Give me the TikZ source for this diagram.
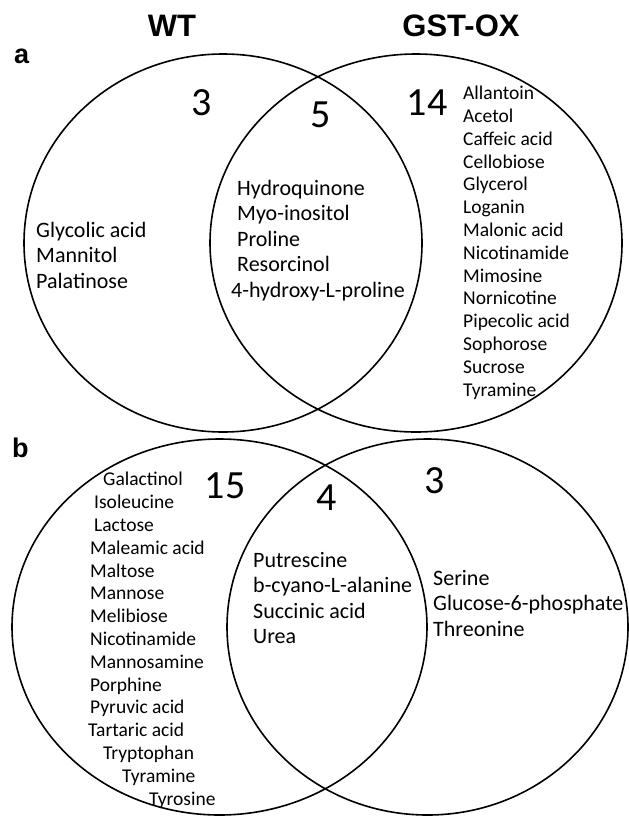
\documentclass[tikz,border=0pt]{standalone}
\usepackage{fontspec}
\setmainfont{Carlito}
\newfontfamily\headfont{Liberation Sans}

\tikzset{
	venn/.style={line width=1.6pt},
	head/.style={anchor=base, inner sep=0pt, font=\headfont\bfseries\fontsize{31}{31}\selectfont},
	panel/.style={anchor=base west, inner sep=0pt, font=\headfont\bfseries\fontsize{27}{27}\selectfont},
	count/.style={anchor=base, inner sep=0pt, font=\fontsize{40}{40}\selectfont},
	biglist/.style={anchor=base west, inner sep=0pt, align=left, font=\fontsize{22}{25.5}\selectfont},
	smalllist/.style={anchor=base west, inner sep=0pt, align=left, font=\fontsize{19.5}{22.8}\selectfont}
}

\begin{document}
\begin{tikzpicture}[x=1pt, y=-1pt]
		\useasboundingbox (0,0) rectangle (629,817);

		% column titles
		\node[head] (wt) at (172,36) {WT};
		\node[head] (gst) at (461,36) {GST-OX};

		% panel a (lists placed at the baseline of their last line)
		\node[panel] (pa) at (14,63) {a};
		\draw[venn] (223,243) ellipse [x radius=199, y radius=189];
		\draw[venn] (416,243) ellipse [x radius=206, y radius=189];

		\node[count] (na1) at (202,115) {3};
		\node[count] (na2) at (321,127) {5};
		\node[count] (na3) at (427,115) {14};

		\node[biglist] (wta) at (36,288) {Glycolic acid\\Mannitol\\Palatinose};
		\node[biglist] (botha) at (231,297) {\hspace*{6pt}Hydroquinone\\\hspace*{6pt}Myo-inositol\\\hspace*{6pt}Proline\\\hspace*{6pt}Resorcinol\\4-hydroxy-L-proline};
		\node[smalllist] (gsta) at (463,396) {Allantoin\\Acetol\\Caffeic acid\\Cellobiose\\Glycerol\\Loganin\\Malonic acid\\Nicotinamide\\Mimosine\\Nornicotine\\Pipecolic acid\\Sophorose\\Sucrose\\Tyramine};

		% panel b
		\node[panel] (pb) at (12,457) {b};
		\draw[venn] (219.5,627) ellipse [x radius=207.5, y radius=188];
		\draw[venn] (427.5,627) ellipse [x radius=200.5, y radius=188];

		\node[count] (nb1) at (225,498) {15};
		\node[count] (nb2) at (327,510) {4};
		\node[count] (nb3) at (435,493) {3};

		\node[smalllist] (wtb) at (88,805) {\hspace*{15pt}Galactinol\\\hspace*{6pt}Isoleucine\\\hspace*{6pt}Lactose\\\hspace*{2pt}Maleamic acid\\\hspace*{2pt}Maltose\\\hspace*{2pt}Mannose\\\hspace*{2pt}Melibiose\\\hspace*{2pt}Nicotinamide\\\hspace*{2pt}Mannosamine\\\hspace*{2pt}Porphine\\\hspace*{2pt}Pyruvic acid\\Tartaric acid\\\hspace*{15pt}Tryptophan\\\hspace*{34pt}Tyramine\\\hspace*{61pt}Tyrosine};
		\node[biglist] (bothb) at (253,643.5) {Putrescine\\b-cyano-L-alanine\\Succinic acid\\Urea};
		\node[biglist] (gstb) at (433,636) {Serine\\Glucose-6-phosphate\\Threonine};
	\end{tikzpicture}
\end{document}
